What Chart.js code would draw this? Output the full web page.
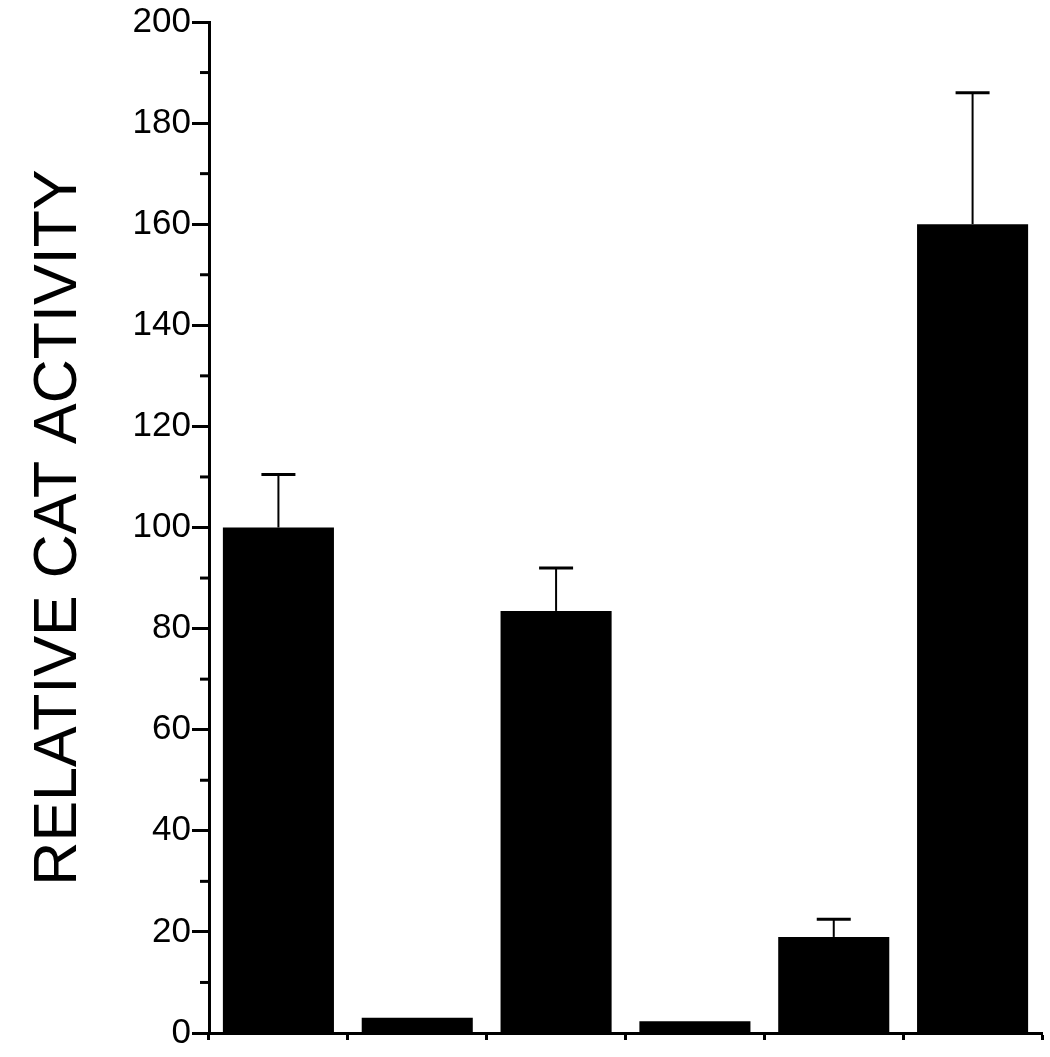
<!DOCTYPE html>
<html>
<head>
<meta charset="utf-8">
<script src="https://cdn.jsdelivr.net/npm/chart.js@4"></script>
<style>
  html, body { margin: 0; padding: 0; background: #fff; }
  #wrap { width: 1050px; height: 1057px; }
</style>
</head>
<body>
<div id="wrap"><canvas id="chart"></canvas></div>
<script>
// values
const categories = ['1', '2', '3', '4', '5', '6'];
const activity = [100, 3, 83.5, 2.3, 19, 160];
const errors = [10.5, 0, 8.5, 0, 3.5, 26];
const yTitle = 'RELATIVE CAT ACTIVITY';

// error bars (upward only) + short minor ticks on the y axis
const extrasPlugin = {
  id: 'extras',
  afterDatasetsDraw(chart) {
    const ctx = chart.ctx;
    const x = chart.scales.x;
    const y = chart.scales.y;
    ctx.save();
    ctx.strokeStyle = '#000';
    activity.forEach((v, i) => {
      if (!errors[i]) return;
      const px = x.getPixelForValue(i);
      const top = y.getPixelForValue(v + errors[i]);
      const base = y.getPixelForValue(v);
      ctx.lineWidth = 2;
      ctx.beginPath();
      ctx.moveTo(px, base);
      ctx.lineTo(px, top);
      ctx.stroke();
      ctx.lineWidth = 3;
      ctx.beginPath();
      ctx.moveTo(px - 17, top);
      ctx.lineTo(px + 17, top);
      ctx.stroke();
    });
    // minor ticks
    ctx.lineWidth = 3;
    for (let v = 10; v < 200; v += 20) {
      const py = y.getPixelForValue(v);
      ctx.beginPath();
      ctx.moveTo(y.right - 9, py);
      ctx.lineTo(y.right, py);
      ctx.stroke();
    }
    ctx.restore();
  }
};

new Chart(document.getElementById('chart'), {
  type: 'bar',
  data: {
    labels: categories,
    datasets: [{
      data: activity,
      backgroundColor: '#000',
      borderWidth: 0,
      categoryPercentage: 0.8,
      barPercentage: 1.0
    }]
  },
  options: {
    responsive: true,
    maintainAspectRatio: false,
    animation: false,
    layout: { padding: { top: 16, right: 8, left: 0, bottom: 0 } },
    plugins: {
      legend: { display: false },
      tooltip: { enabled: false }
    },
    scales: {
      x: {
        offset: true,
        grid: {
          offset: true,
          drawOnChartArea: false,
          drawTicks: true,
          tickLength: 7,
          tickWidth: 3,
          tickColor: '#000'
        },
        border: { display: true, color: '#000', width: 3 },
        ticks: { display: false },
        afterFit: (scale) => { scale.height = 24; }
      },
      y: {
        min: 0,
        max: 200,
        grid: {
          drawOnChartArea: false,
          drawTicks: true,
          tickLength: 17,
          tickWidth: 3,
          tickColor: '#000'
        },
        border: { display: true, color: '#000', width: 3 },
        ticks: {
          stepSize: 20,
          padding: 1,
          color: '#000',
          font: { family: 'Liberation Sans, Arial, sans-serif', size: 35 }
        },
        title: {
          display: true,
          text: yTitle,
          color: '#000',
          padding: { top: 23, bottom: 0 },
          font: { family: 'Liberation Sans, Arial, sans-serif', size: 61 }
        },
        afterFit: (scale) => { scale.width = 209; }
      }
    }
  },
  plugins: [extrasPlugin]
});
</script>
</body>
</html>
